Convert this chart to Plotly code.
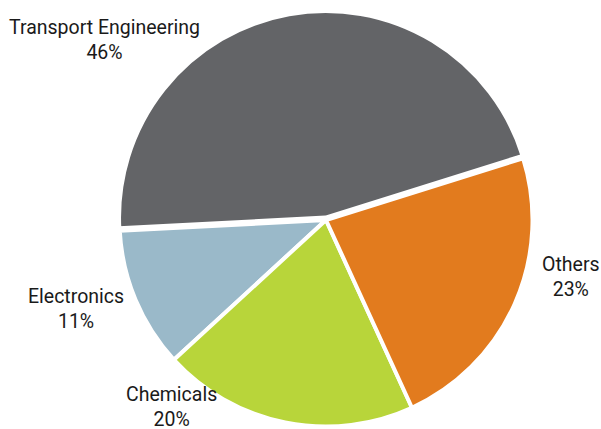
import plotly.graph_objects as go

categories = ["Transport Engineering", "Electronics", "Chemicals", "Others"]
shares = [46, 11, 20, 23]
colors = ["#636467", "#9AB9C9", "#B8D53A", "#E27B1E"]
pulls = [0.012, 0, 0, 0]

W, H = 601, 429
cx, cy, R = 326, 220, 209  # pixel center (from top) and domain half-size

fig = go.Figure(go.Pie(
    labels=categories,
    values=shares,
    sort=False,
    direction="counterclockwise",
    rotation=-93,
    pull=pulls,
    marker=dict(colors=colors, line=dict(color="white", width=4)),
    textinfo="none",
    hoverinfo="label+percent",
    showlegend=False,
    domain=dict(x=[(cx - R) / W, (cx + R) / W],
                y=[max(0, (H - cy - R) / H), min(1, (H - cy + R) / H)]),
))

label_pos = {
    "Transport Engineering": (104, 40),
    "Electronics": (76, 309),
    "Chemicals": (171, 407),
    "Others": (571, 277),
}
for cat, val in zip(categories, shares):
    x, y = label_pos[cat]
    fig.add_annotation(
        x=x / W, y=1 - y / H, xref="paper", yref="paper",
        text=f"{cat}<br>{val}%", showarrow=False,
        font=dict(family="Roboto", size=19.5, color="#1a1a1a"),
        xanchor="center", yanchor="middle", align="center",
    )

fig.update_layout(
    width=W, height=H,
    margin=dict(l=0, r=0, t=0, b=0),
    paper_bgcolor="white", plot_bgcolor="white",
)
fig.write_html(
    "out.html",
    config={"displayModeBar": False},
    post_script="document.body.style.margin='0';document.body.style.overflow='hidden';",
)
